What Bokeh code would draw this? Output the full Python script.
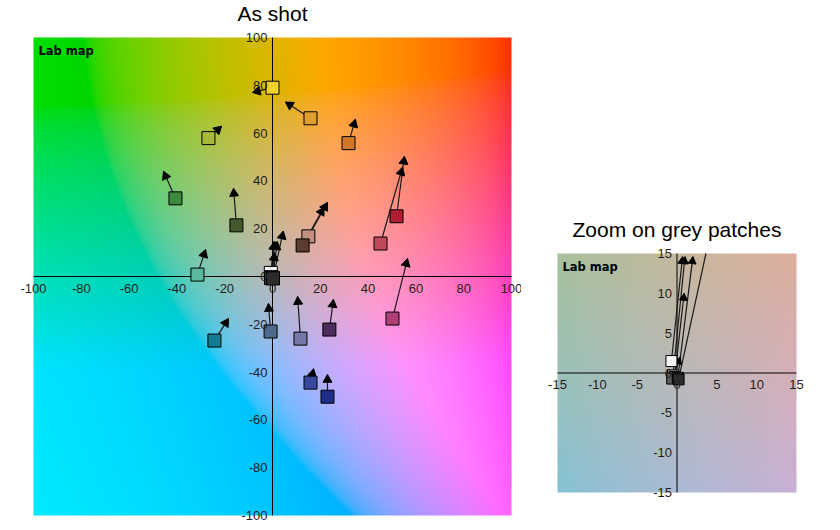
import numpy as np
from bokeh.plotting import figure
from bokeh.models import ColumnDataSource, Label, LabelSet
from bokeh.layouts import row
from bokeh.core.properties import value
from bokeh.embed import file_html
from bokeh.resources import INLINE

# ---- data: Lab a*/b* of each patch (as shot -> reference) ----
shot_a = [0.0, 15.9, 31.8, -26.8, -40.6, -15.1, -31.4, -24.3, -0.8, 11.7, 23.8, 50.2,
          15.9, 23.0, 45.2, 51.9, 15.0, 12.6,
          -0.7, -0.5, -0.3, -0.6, 0.1, 0.2]
shot_b = [79.0, 66.2, 55.8, 57.9, 32.7, 21.4, 0.8, -26.8, -23.0, -26.0, -22.2, -17.6,
          -44.4, -50.3, 13.8, 25.2, 16.8, 13.0,
          1.5, -0.3, -0.5, -0.7, -0.6, -0.8]
ref_a = [-8.4, 5.4, 34.7, -21.3, -45.6, -16.3, -28.0, -18.4, -1.7, 10.5, 25.5, 56.5,
         17.2, 23.0, 54.4, 55.2, 23.0, 21.5,
         0.7, 1.0, 0.9, 0.4, 2.0, 4.5]
ref_b = [77.0, 73.0, 65.8, 62.9, 44.0, 36.9, 11.3, -17.6, -11.3, -8.4, -9.6, 7.5,
         -38.6, -41.0, 45.7, 50.3, 31.0, 29.0,
         14.6, 14.6, 10.0, 2.0, 14.6, 19.0]
patch_color = ["#f3d22a", "#e0a030", "#d07828", "#a8b838", "#3d8a3d", "#44582e",
               "#5cb89c", "#127c94", "#4f6a8c", "#7878a8", "#4c2c5c", "#b04078",
               "#3848a0", "#1c2c88", "#c04a5c", "#b01c30", "#c09080", "#5c3c30",
               "#f4f4f4", "#b4b4b4", "#808080", "#5a5a5a", "#3c3c3c", "#2c2c2c"]
is_grey = [False, False, False, False, False, False, False, False, False, False, False, False,
           False, False, False, False, False, False,
           True, True, True, True, True, True]

main_ticks = [-100, -80, -60, -40, -20, 0, 20, 40, 60, 80, 100]
zoom_ticks = [-15, -10, -5, 0, 5, 10, 15]

FONT = "Liberation Sans"


def lab_image(lo, hi, n, L=75.0):
    """Lab (fixed L) a*/b* plane rendered to sRGB, as an RGBA uint32 image."""
    a = np.linspace(lo, hi, n)
    b = np.linspace(lo, hi, n)
    A, B = np.meshgrid(a, b)
    fy = (L + 16) / 116
    fx = fy + A / 500
    fz = fy - B / 200
    d = 6 / 29

    def finv(t):
        return np.where(t > d, t ** 3, 3 * d * d * (t - 4 / 29))
    X = 0.95047 * finv(fx)
    Y = finv(np.full_like(A, fy))
    Z = 1.08883 * finv(fz)
    r = 3.2406 * X - 1.5372 * Y - 0.4986 * Z
    g = -0.9689 * X + 1.8758 * Y + 0.0415 * Z
    bl = 0.0557 * X - 0.2040 * Y + 1.0570 * Z
    rgb = np.clip(np.stack([r, g, bl], -1), 0, 1)
    rgb = np.where(rgb <= 0.0031308, 12.92 * rgb, 1.055 * rgb ** (1 / 2.4) - 0.055)
    img = np.zeros((n, n), dtype=np.uint32)
    view = img.view(dtype=np.uint8).reshape((n, n, 4))
    view[..., :3] = np.clip(rgb * 255, 0, 255).round().astype(np.uint8)
    view[..., 3] = 255
    return img


def clip_segment(x0, y0, x1, y1, lim):
    """Clip each segment to the square [-lim, lim]^2 (start points lie inside)."""
    t = np.ones_like(x0)
    for d0, d1 in ((x0, x1), (y0, y1)):
        dd = d1 - d0
        with np.errstate(divide="ignore", invalid="ignore"):
            t_hi = np.where(dd > 0, (lim - d0) / dd, np.inf)
            t_lo = np.where(dd < 0, (-lim - d0) / dd, np.inf)
        t = np.minimum(t, np.minimum(t_hi, t_lo))
    return x0 + t * (x1 - x0), y0 + t * (y1 - y0), t >= 1


def make_plot(title, lim, ticks, size, img_box, sq_size, head, grey_only):
    # img_box: (left, top, side) of the colour map in figure pixels
    W, H = size
    il, it, side = img_box
    ppu = side / (2 * lim)                     # pixels per data unit
    x_range = (-lim - il / ppu, lim + (W - il - side) / ppu)
    y_range = (-lim - (H - it - side) / ppu, lim + it / ppu)
    p = figure(x_range=x_range, y_range=y_range, width=W, height=H,
               min_border=0, min_border_left=0, min_border_right=0,
               min_border_top=0, min_border_bottom=0,
               output_backend="svg", toolbar_location=None)
    p.axis.visible = False
    p.grid.visible = False
    p.outline_line_color = None
    p.background_fill_color = "white"
    p.border_fill_color = "white"

    p.image_rgba(image=[lab_image(-lim, lim, 240)], x=-lim, y=-lim, dw=2 * lim, dh=2 * lim,
                 level="image")

    # axes through the origin, spanning the map
    p.segment(x0=[-lim, 0], y0=[0, -lim], x1=[lim, 0], y1=[0, lim],
              line_color="black", line_width=1)

    zeros = [0] * len(ticks)
    labels = [str(v) for v in ticks]
    xt = ColumnDataSource(dict(x=ticks, y=zeros, t=labels))
    yt = ColumnDataSource(dict(x=zeros, y=ticks, t=labels))
    p.add_layout(LabelSet(x="x", y="y", text="t", source=xt, y_offset=-7,
                          text_align="center", text_baseline="top",
                          text_font=value(FONT), text_font_size=value("13px"),
                          text_color="#1e1e1e"))
    p.add_layout(LabelSet(x="x", y="y", text="t", source=yt, x_offset=-5,
                          text_align="right", text_baseline="middle",
                          text_font=value(FONT), text_font_size=value("13px"),
                          text_color="#1e1e1e"))

    # patches: all of them, or only the grey ones for the zoom
    idx = [i for i in range(len(shot_a)) if (is_grey[i] or not grey_only)]
    a0 = np.array([shot_a[i] for i in idx])
    b0 = np.array([shot_b[i] for i in idx])
    a1 = np.array([ref_a[i] for i in idx])
    b1 = np.array([ref_b[i] for i in idx])
    col = [patch_color[i] for i in idx]

    # arrow heads: triangles whose tip sits at the reference point
    dx, dy = (a1 - a0) * ppu, (b1 - b0) * ppu
    ln = np.hypot(dx, dy)
    ux, uy = dx / ln, dy / ln
    tip_back = head * np.sqrt(3) / 2 * 2 / 3 / ppu
    hx = a1 - ux * tip_back
    hy = b1 - uy * tip_back
    ang = np.arctan2(dy, dx) - np.pi / 2
    ca, cb, inside = clip_segment(a0, b0, a1, b1, lim)

    src = ColumnDataSource(dict(a0=a0, b0=b0, ca=ca, cb=cb))
    p.segment("a0", "b0", "ca", "cb", source=src, line_color="#1a1a1a", line_width=1.2)
    hsrc = ColumnDataSource(dict(hx=hx[inside], hy=hy[inside], ang=ang[inside]))
    p.scatter("hx", "hy", source=hsrc, marker="triangle", size=head, angle="ang",
              fill_color="black", line_color="black", line_width=1)
    ssrc = ColumnDataSource(dict(a0=a0, b0=b0, color=col))
    p.scatter("a0", "b0", source=ssrc, marker="square", size=sq_size,
              fill_color="color", line_color="black", line_width=1)

    p.add_layout(Label(x=-lim, y=lim, x_offset=5, y_offset=-6, text="Lab map",
                       text_font="DejaVu Sans", text_font_size="11.5px",
                       text_font_style="bold", text_baseline="top", text_color="black"))
    p.add_layout(Label(x=0, y=lim, y_offset=24, text=title, text_align="center",
                       text_baseline="middle", text_font=FONT, text_font_size="21px",
                       text_color="black"))
    return p


p1 = make_plot("As shot", 100, main_ticks, (521, 528), (33, 37, 478), 13, 9, False)
p2 = make_plot("Zoom on grey patches", 15, zoom_ticks, (300, 528), (36, 253, 239), 11, 8, True)

layout = row(p1, p2)

with open("out.html", "w") as f:
    f.write(file_html(layout, INLINE))
